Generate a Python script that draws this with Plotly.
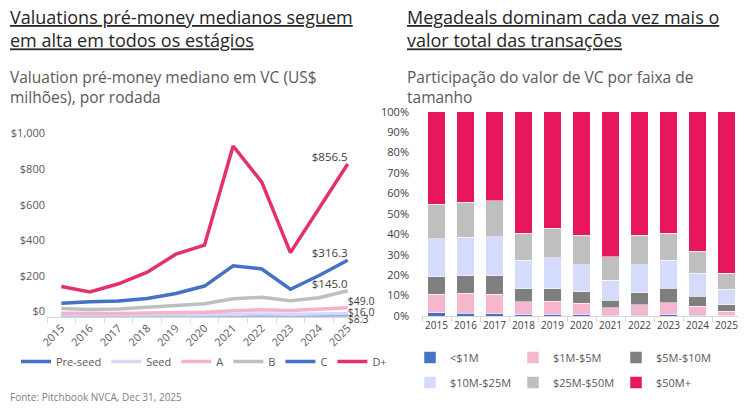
import plotly.graph_objects as go

# The page places the figure 8px from the window's top-left corner,
# so the figure is 8px smaller than the 746x416 window and coordinates are offset.
OFF = 8
W, H = 746 - OFF, 416 - OFF

# ---------------- Data ----------------
years = ["2015", "2016", "2017", "2018", "2019", "2020", "2021", "2022", "2023", "2024", "2025"]

# Left chart: median pre-money valuation (US$ M) by round
pre_seed = [3.0, 3.0, 3.2, 3.5, 4.0, 4.5, 6.0, 6.5, 6.0, 7.0, 8.3]
seed = [8.0, 7.0, 7.0, 8.0, 9.0, 10.0, 13.0, 14.0, 13.0, 14.0, 16.0]
series_a = [18.0, 16.0, 17.0, 20.0, 22.0, 24.0, 33.0, 38.0, 34.0, 40.0, 49.0]
series_b = [45.0, 40.0, 42.0, 52.0, 65.0, 72.0, 100.0, 108.0, 88.0, 105.0, 145.0]
series_c = [74.0, 83.0, 87.0, 101.0, 129.0, 171.0, 285.0, 267.0, 153.0, 230.0, 316.3]
series_d = [169.0, 138.0, 184.0, 249.0, 350.0, 401.0, 958.0, 755.0, 359.0, 611.0, 856.5]

round_names = ["Pre-seed", "Seed", "A", "B", "C", "D+"]
round_values = [pre_seed, seed, series_a, series_b, series_c, series_d]

val_ticks = [0, 200, 400, 600, 800, 1000]
val_tick_labels = ["$0", "$200", "$400", "$600", "$800", "$1,000"]

# Right chart: share of VC deal value by deal size (%)
lt_1m = [1.6, 1.3, 1.1, 0.7, 0.7, 0.6, 0.3, 0.3, 0.5, 0.3, 0.2]
m1_5 = [9.0, 9.8, 9.5, 6.2, 6.5, 5.6, 3.8, 5.2, 5.9, 4.4, 2.2]
m5_10 = [8.6, 8.6, 9.1, 6.5, 6.2, 5.7, 3.7, 5.9, 7.3, 4.9, 3.0]
m10_25 = [18.5, 18.8, 19.1, 14.0, 15.1, 13.1, 9.8, 13.6, 13.7, 11.3, 7.8]
m25_50 = [16.9, 17.1, 17.5, 13.2, 14.4, 14.5, 11.3, 14.5, 13.1, 10.7, 7.7]
m50_plus = [45.4, 44.4, 43.7, 59.4, 57.1, 60.5, 71.1, 60.5, 59.5, 68.4, 79.1]

size_names = ["<$1M", "$1M-$5M", "$5M-$10M", "$10M-$25M", "$25M-$50M", "$50M+"]
size_values = [lt_1m, m1_5, m5_10, m10_25, m25_50, m50_plus]

pct_ticks = [0, 10, 20, 30, 40, 50, 60, 70, 80, 90, 100]
pct_tick_labels = ["0%", "10%", "20%", "30%", "40%", "50%", "60%", "70%", "80%", "90%", "100%"]

# ---------------- Styles ----------------
FONT = "Open Sans"
round_colors = ["#4472C4", "#D4D9F9", "#F4B3CB", "#BFBFBF", "#4472C4", "#E33268"]
size_colors = ["#4472C4", "#F7B6CF", "#7F7F7F", "#D5DCFB", "#BFBFBF", "#E8175D"]
label_pos = ["bottom right", "middle right", "top right", "top left", "top left", "top left"]
label_size = [10.5, 10.5, 10.5, 11.5, 11.5, 11.5]


def px_x(p):
    return (p - OFF) / W


def px_y(p):
    return 1 - (p - OFF) / H


fig = go.Figure()

for name, vals, col, pos, fs in zip(round_names, round_values, round_colors, label_pos, label_size):
    txt = [""] * (len(vals) - 1) + ["${:,.1f}".format(vals[-1])]
    fig.add_trace(go.Scatter(
        x=years, y=vals, name=name, mode="lines+text",
        text=txt, textposition=pos,
        textfont=dict(family=FONT, size=fs, color="#404040"),
        line=dict(color=col, width=3.5),
        cliponaxis=False,
        xaxis="x", yaxis="y", legend="legend",
    ))

for i, (name, vals, col) in enumerate(zip(size_names, size_values, size_colors)):
    fig.add_trace(go.Bar(
        x=years, y=vals, name=name,
        marker=dict(color=col, line=dict(color="white", width=0.5)),
        xaxis="x2", yaxis="y2",
        legend="legend2" if i < 3 else "legend3",
    ))

axis_font = dict(family=FONT, size=11, color="#595959")

fig.update_layout(
    width=W, height=H,
    margin=dict(l=0, r=0, t=0, b=0, autoexpand=False),
    paper_bgcolor="white", plot_bgcolor="white",
    barmode="stack", bargap=0.38,
    showlegend=True,
    xaxis=dict(
        domain=[px_x(47), px_x(362)], type="category", range=[-0.5, 10.5],
        showgrid=False, showline=True, linecolor="#D9D9D9", linewidth=1,
        ticks="outside", tickson="boundaries", ticklen=5, tickcolor="#D9D9D9",
        tickangle=-45, tickfont=axis_font, anchor="y", automargin=False,
    ),
    yaxis=dict(
        domain=[px_y(316.5), px_y(138.5)], range=[0, 1000],
        tickmode="array", tickvals=val_ticks, ticktext=val_tick_labels,
        showgrid=False, zeroline=False, showline=False,
        tickfont=axis_font, ticklabelshift=-5, ticklabelstandoff=1, anchor="x", automargin=False,
    ),
    xaxis2=dict(
        domain=[px_x(422), px_x(741)], type="category", range=[-0.5, 10.5],
        showgrid=False, showline=True, linecolor="#D9D9D9", linewidth=1,
        ticks="outside", tickson="boundaries", ticklen=5, tickcolor="#D9D9D9",
        tickangle=0, tickfont=dict(family=FONT, size=10, color="#404040"), anchor="y2",
        automargin=False,
    ),
    yaxis2=dict(
        domain=[px_y(316), px_y(111.7)], range=[0, 100],
        tickmode="array", tickvals=pct_ticks, ticktext=pct_tick_labels,
        showgrid=False, zeroline=False, showline=False,
        tickfont=dict(family=FONT, size=11, color="#404040"), ticklabelstandoff=12, anchor="x2",
        automargin=False,
    ),
    legend=dict(
        orientation="h", x=px_x(16), y=px_y(347), xanchor="left", yanchor="top",
        font=dict(family=FONT, size=11, color="#595959"), traceorder="normal",
        bgcolor="rgba(0,0,0,0)", itemwidth=30,
    ),
    legend2=dict(
        orientation="h", x=px_x(410), y=px_y(343), xanchor="left", yanchor="top",
        font=dict(family=FONT, size=11, color="#595959"), traceorder="normal",
        bgcolor="rgba(0,0,0,0)", entrywidth=58, itemwidth=30,
    ),
    legend3=dict(
        orientation="h", x=px_x(410), y=px_y(368), xanchor="left", yanchor="top",
        font=dict(family=FONT, size=11, color="#595959"), traceorder="normal",
        bgcolor="rgba(0,0,0,0)", entrywidth=58, itemwidth=30,
    ),
)

title_font = dict(family=FONT, size=18, color="#262626")
sub_font = dict(family=FONT, size=15.5, color="#595959")

annotations = [
    dict(text="<u>Valuations pré-money medianos seguem</u><br><u>em alta em todos os estágios</u>",
         x=px_x(8), y=px_y(28), font=title_font),
    dict(text="Valuation pré-money mediano em VC (US$<br>milhões), por rodada",
         x=px_x(8), y=px_y(87), font=sub_font),
    dict(text="<u>Megadeals dominam cada vez mais o</u><br><u>valor total das transações</u>",
         x=px_x(405), y=px_y(28), font=title_font),
    dict(text="Participação do valor de VC por faixa de<br>tamanho",
         x=px_x(405), y=px_y(87), font=sub_font),
    dict(text="Fonte: Pitchbook NVCA, Dec 31, 2025", x=px_x(8), y=px_y(397),
         font=dict(family=FONT, size=10, color="#7F7F7F")),
]
for a in annotations:
    a.update(xref="paper", yref="paper", xanchor="left", yanchor="middle", align="left",
             showarrow=False)
fig.update_layout(annotations=annotations)

fig.write_html("out.html")
